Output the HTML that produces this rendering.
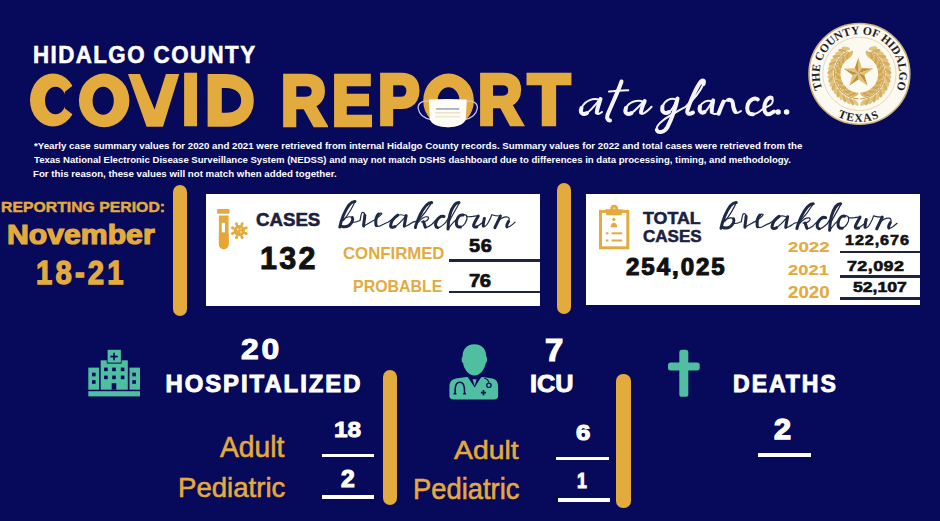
<!DOCTYPE html>
<html><head><meta charset="utf-8"><title>Hidalgo County COVID Report</title>
<style>
html,body{margin:0;padding:0}
body{width:940px;height:521px;overflow:hidden;background:#07095a;position:relative;font-family:'Liberation Sans',sans-serif}
.t{position:absolute;white-space:nowrap;line-height:1;transform-origin:0 0}
.box{position:absolute;background:#fff}
.bar{position:absolute;background:#e3ab3e;border-radius:7px}
.ln{position:absolute;background:#1c2442}
.wl{position:absolute;background:#fff}
svg{position:absolute;overflow:visible}
</style></head><body>
<div class="box" style="left:205.5px;top:194px;width:334.5px;height:111.5px"></div>
<div class="box" style="left:586px;top:194px;width:334px;height:111px"></div>
<div class="bar" style="left:173px;top:185px;width:14px;height:131px"></div>
<div class="bar" style="left:557px;top:183px;width:13.5px;height:131px"></div>
<div class="bar" style="left:383px;top:370px;width:13.5px;height:134.5px"></div>
<div class="bar" style="left:616px;top:374px;width:14.5px;height:133.5px"></div>
<div class="ln" style="left:449px;top:259.2px;width:91px;height:2.5px"></div>
<div class="ln" style="left:449px;top:290.9px;width:91px;height:2.5px"></div>
<div class="ln" style="left:840px;top:250.6px;width:80px;height:2.5px"></div>
<div class="ln" style="left:840px;top:275px;width:80px;height:2.5px"></div>
<div class="ln" style="left:840px;top:297.3px;width:80px;height:2.4px"></div>
<div class="wl" style="left:321.7px;top:453.5px;width:52.3px;height:3.7px"></div>
<div class="wl" style="left:321.7px;top:495.4px;width:52.3px;height:3.7px"></div>
<div class="wl" style="left:556.2px;top:456.6px;width:52.6px;height:3.7px"></div>
<div class="wl" style="left:558.2px;top:498.4px;width:52.2px;height:3.7px"></div>
<div class="wl" style="left:758.4px;top:453.4px;width:52.3px;height:3.9px"></div>
<div class="t" id="hc" style="left:33.38px;top:43.13px;color:#ffffff;font-family:'Liberation Sans', sans-serif;font-weight:700;font-style:normal;font-size:24.795px;-webkit-text-stroke:0.025em #ffffff;letter-spacing:1.607px;transform:scaleX(0.9);">HIDALGO COUNTY</div>
<div class="t" id="rp" style="left:0.91px;top:199.86px;color:#e3ab3e;font-family:'Liberation Sans', sans-serif;font-weight:700;font-style:normal;font-size:14.133px;-webkit-text-stroke:0.03em #e3ab3e;transform:scaleX(1.1179);">REPORTING PERIOD:</div>
<div class="t" id="nov" style="left:7.29px;top:221.81px;color:#e3ab3e;font-family:'Liberation Sans', sans-serif;font-weight:700;font-style:normal;font-size:26.923px;-webkit-text-stroke:0.045em #e3ab3e;transform:scaleX(1.1219);">November</div>
<div class="t" id="d1821" style="left:36.03px;top:257.07px;color:#e3ab3e;font-family:'Liberation Sans', sans-serif;font-weight:700;font-style:normal;font-size:32.533px;-webkit-text-stroke:0.04em #e3ab3e;letter-spacing:3.530px;transform:scaleX(0.9);">18-21</div>
<div class="t" id="cases1" style="left:256.43px;top:210.71px;color:#1b2140;font-family:'Liberation Sans', sans-serif;font-weight:700;font-style:normal;font-size:18.400px;-webkit-text-stroke:0.03em #1b2140;transform:scaleX(1.0150);">CASES</div>
<div class="t" id="n132" style="left:260.27px;top:243.11px;color:#111111;font-family:'Liberation Sans', sans-serif;font-weight:700;font-style:normal;font-size:31.467px;-webkit-text-stroke:0.03em #111111;letter-spacing:2.352px;transform:scaleX(0.97);">132</div>
<div class="t" id="conf" style="left:343.23px;top:244.90px;color:#e3ab3e;font-family:'Liberation Sans', sans-serif;font-weight:700;font-style:normal;font-size:17.324px;transform:scaleX(0.9679);">CONFIRMED</div>
<div class="t" id="n56" style="left:468.80px;top:236.74px;color:#111111;font-family:'Liberation Sans', sans-serif;font-weight:700;font-style:normal;font-size:18.133px;-webkit-text-stroke:0.04em #111111;letter-spacing:0.598px;transform:scaleX(1.1);">56</div>
<div class="t" id="prob" style="left:352.88px;top:277.57px;color:#e3ab3e;font-family:'Liberation Sans', sans-serif;font-weight:700;font-style:normal;font-size:16.197px;transform:scaleX(0.9845);">PROBABLE</div>
<div class="t" id="n76" style="left:469.40px;top:271.71px;color:#111111;font-family:'Liberation Sans', sans-serif;font-weight:700;font-style:normal;font-size:18.400px;-webkit-text-stroke:0.04em #111111;letter-spacing:-0.508px;transform:scaleX(1.1);">76</div>
<div class="t" id="total" style="left:643.18px;top:210.08px;color:#1b2140;font-family:'Liberation Sans', sans-serif;font-weight:700;font-style:normal;font-size:17.067px;-webkit-text-stroke:0.03em #1b2140;transform:scaleX(1.0435);">TOTAL</div>
<div class="t" id="cases2" style="left:642.96px;top:229.30px;color:#1b2140;font-family:'Liberation Sans', sans-serif;font-weight:700;font-style:normal;font-size:16.933px;-webkit-text-stroke:0.03em #1b2140;transform:scaleX(1.0074);">CASES</div>
<div class="t" id="n254" style="left:625.76px;top:255.58px;color:#111111;font-family:'Liberation Sans', sans-serif;font-weight:700;font-style:normal;font-size:23.200px;-webkit-text-stroke:0.045em #111111;letter-spacing:1.849px;transform:scaleX(1.04);">254,025</div>
<div class="t" id="y22" style="left:788.44px;top:238.63px;color:#e3ab3e;font-family:'Liberation Sans', sans-serif;font-weight:700;font-style:normal;font-size:15.479px;-webkit-text-stroke:0.01em #e3ab3e;transform:scaleX(1.2113);">2022</div>
<div class="t" id="y21" style="left:788.45px;top:262.23px;color:#e3ab3e;font-family:'Liberation Sans', sans-serif;font-weight:700;font-style:normal;font-size:15.479px;-webkit-text-stroke:0.01em #e3ab3e;transform:scaleX(1.1908);">2021</div>
<div class="t" id="y20" style="left:788.44px;top:284.30px;color:#e3ab3e;font-family:'Liberation Sans', sans-serif;font-weight:700;font-style:normal;font-size:16.438px;-webkit-text-stroke:0.01em #e3ab3e;transform:scaleX(1.1406);">2020</div>
<div class="t" id="v22" style="left:845.25px;top:233.51px;color:#111111;font-family:'Liberation Sans', sans-serif;font-weight:700;font-style:normal;font-size:13.733px;-webkit-text-stroke:0.04em #111111;letter-spacing:0.764px;transform:scaleX(1.18);">122,676</div>
<div class="t" id="v21" style="left:846.94px;top:257.62px;color:#111111;font-family:'Liberation Sans', sans-serif;font-weight:700;font-style:normal;font-size:15.200px;-webkit-text-stroke:0.04em #111111;letter-spacing:0.345px;transform:scaleX(1.18);">72,092</div>
<div class="t" id="v20" style="left:853.42px;top:280.16px;color:#111111;font-family:'Liberation Sans', sans-serif;font-weight:700;font-style:normal;font-size:14.933px;-webkit-text-stroke:0.04em #111111;letter-spacing:-0.016px;transform:scaleX(1.18);">52,107</div>
<div class="t" id="n20" style="left:240.86px;top:335.24px;color:#ffffff;font-family:'Liberation Sans', sans-serif;font-weight:700;font-style:normal;font-size:28.933px;-webkit-text-stroke:0.035em #ffffff;letter-spacing:2.587px;transform:scaleX(1.1);">20</div>
<div class="t" id="hosp" style="left:165.51px;top:372.10px;color:#ffffff;font-family:'Liberation Sans', sans-serif;font-weight:700;font-style:normal;font-size:23.867px;-webkit-text-stroke:0.04em #ffffff;letter-spacing:1.973px;transform:scaleX(1.0);">HOSPITALIZED</div>
<div class="t" id="ad1" style="left:220.48px;top:432.52px;color:#e3ab3e;font-family:'Liberation Sans', sans-serif;font-weight:400;font-style:normal;font-size:28.947px;-webkit-text-stroke:0.02em #e3ab3e;transform:scaleX(0.9775);">Adult</div>
<div class="t" id="pe1" style="left:177.87px;top:472.87px;color:#e3ab3e;font-family:'Liberation Sans', sans-serif;font-weight:400;font-style:normal;font-size:28.421px;-webkit-text-stroke:0.02em #e3ab3e;transform:scaleX(0.9715);">Pediatric</div>
<div class="t" id="n18" style="left:334.42px;top:418.71px;color:#ffffff;font-family:'Liberation Sans', sans-serif;font-weight:700;font-style:normal;font-size:22.267px;-webkit-text-stroke:0.04em #ffffff;letter-spacing:-0.057px;transform:scaleX(1.1);">18</div>
<div class="t" id="n2a" style="left:341.45px;top:467.82px;color:#ffffff;font-family:'Liberation Sans', sans-serif;font-weight:700;font-style:normal;font-size:23.158px;-webkit-text-stroke:0.05em #ffffff;transform:scaleX(1.0673);">2</div>
<div class="t" id="n7" style="left:544.65px;top:334.72px;color:#ffffff;font-family:'Liberation Sans', sans-serif;font-weight:700;font-style:normal;font-size:30.548px;-webkit-text-stroke:0.04em #ffffff;transform:scaleX(1.0719);">7</div>
<div class="t" id="icu" style="left:530.04px;top:372.67px;color:#ffffff;font-family:'Liberation Sans', sans-serif;font-weight:700;font-style:normal;font-size:23.333px;-webkit-text-stroke:0.04em #ffffff;transform:scaleX(1.0806);">ICU</div>
<div class="t" id="ad2" style="left:454.03px;top:437.11px;color:#e3ab3e;font-family:'Liberation Sans', sans-serif;font-weight:400;font-style:normal;font-size:26.316px;-webkit-text-stroke:0.02em #e3ab3e;transform:scaleX(1.0786);">Adult</div>
<div class="t" id="pe2" style="left:412.58px;top:474.24px;color:#e3ab3e;font-family:'Liberation Sans', sans-serif;font-weight:400;font-style:normal;font-size:29.605px;-webkit-text-stroke:0.02em #e3ab3e;transform:scaleX(0.9242);">Pediatric</div>
<div class="t" id="n6" style="left:575.84px;top:422.35px;color:#ffffff;font-family:'Liberation Sans', sans-serif;font-weight:700;font-style:normal;font-size:22.078px;-webkit-text-stroke:0.05em #ffffff;transform:scaleX(1.1659);">6</div>
<div class="t" id="n1" style="left:576.79px;top:469.61px;color:#ffffff;font-family:'Liberation Sans', sans-serif;font-weight:700;font-style:normal;font-size:22.267px;-webkit-text-stroke:0.05em #ffffff;transform:scaleX(0.7925);">1</div>
<div class="t" id="deaths" style="left:733.05px;top:373.10px;color:#ffffff;font-family:'Liberation Sans', sans-serif;font-weight:700;font-style:normal;font-size:23.067px;-webkit-text-stroke:0.04em #ffffff;letter-spacing:1.945px;transform:scaleX(1.0);">DEATHS</div>
<div class="t" id="n2b" style="left:773.79px;top:414.48px;color:#ffffff;font-family:'Liberation Sans', sans-serif;font-weight:700;font-style:normal;font-size:29.342px;-webkit-text-stroke:0.05em #ffffff;transform:scaleX(1.0417);">2</div>
<div class="t" id="fn1" style="left:33.50px;top:140.72px;color:#ffffff;font-family:'Liberation Sans', sans-serif;font-weight:700;font-style:normal;font-size:9.855px;transform:scaleX(0.9862);">*Yearly case summary values for 2020 and 2021 were retrieved from internal Hidalgo County records. Summary values for 2022 and total cases were retrieved from the</div>
<div class="t" id="fn2" style="left:33.90px;top:155.15px;color:#ffffff;font-family:'Liberation Sans', sans-serif;font-weight:700;font-style:normal;font-size:9.710px;transform:scaleX(0.9869);">Texas National Electronic Disease Surveillance System (NEDSS) and may not match DSHS dashboard due to differences in data processing, timing, and methodology.</div>
<div class="t" id="fn3" style="left:33.32px;top:170.12px;color:#ffffff;font-family:'Liberation Sans', sans-serif;font-weight:700;font-style:normal;font-size:9.275px;transform:scaleX(1.0473);">For this reason, these values will not match when added together.</div>
<div class="t" id="L4" style="left:182.35px;top:64.90px;color:#e3ab3e;font-family:'Liberation Sans', sans-serif;font-weight:700;font-style:normal;font-size:70.000px;-webkit-text-stroke:0.065em #e3ab3e;transform:scaleX(0.8831);">I</div>
<div class="t" id="L6" style="left:281.02px;top:64.54px;color:#e3ab3e;font-family:'Liberation Sans', sans-serif;font-weight:700;font-style:normal;font-size:71.200px;-webkit-text-stroke:0.065em #e3ab3e;transform:scaleX(0.8812);">R</div>
<div class="t" id="L7" style="left:332.48px;top:64.54px;color:#e3ab3e;font-family:'Liberation Sans', sans-serif;font-weight:700;font-style:normal;font-size:71.200px;-webkit-text-stroke:0.065em #e3ab3e;transform:scaleX(0.8516);">E</div>
<div class="t" id="L8" style="left:377.83px;top:64.67px;color:#e3ab3e;font-family:'Liberation Sans', sans-serif;font-weight:700;font-style:normal;font-size:70.263px;-webkit-text-stroke:0.065em #e3ab3e;transform:scaleX(0.8873);">P</div>
<div class="t" id="L10" style="left:478.15px;top:64.91px;color:#e3ab3e;font-family:'Liberation Sans', sans-serif;font-weight:700;font-style:normal;font-size:70.667px;-webkit-text-stroke:0.065em #e3ab3e;transform:scaleX(0.8723);">R</div>
<div class="t" id="L11" style="left:527.77px;top:65.73px;color:#e3ab3e;font-family:'Liberation Sans', sans-serif;font-weight:700;font-style:normal;font-size:69.737px;-webkit-text-stroke:0.065em #e3ab3e;transform:scaleX(0.9839);">T</div>
<svg width="940" height="521" viewBox="0 0 940 521" style="left:0;top:0">
<g fill="#e3ab3e" fill-rule="evenodd">
<path d="M30 100.1 A23 26.5 0 1 0 76 100.1 A23 26.5 0 1 0 30 100.1 Z M45 100.45 A10.5 13.75 0 1 0 66 100.45 A10.5 13.75 0 1 0 45 100.45 Z"/>
<path d="M78.9 100.45 A25.25 26.85 0 1 0 129.4 100.45 A25.25 26.85 0 1 0 78.9 100.45 Z M92.6 100.75 A10.6 14.05 0 1 0 113.8 100.75 A10.6 14.05 0 1 0 92.6 100.75 Z"/>
<path d="M128 74 L139.9 74 L154.6 109.5 L165.9 74 L179.3 74 L163 126.8 L146.6 126.8 Z"/>
<path d="M207.6 74 H226 C243 74 253.8 85 253.8 100.4 C253.8 115.8 243 126.8 226 126.8 H207.6 Z M221.8 88.1 H226 C235.5 88.1 241.2 93 241.2 100.4 C241.2 107.8 235.5 112.7 226 112.7 H221.8 Z"/>
<path d="M423.2 100.45 A25.35 26.85 0 1 0 473.9 100.45 A25.35 26.85 0 1 0 423.2 100.45 Z M437.6 100.75 A10.95 13.45 0 1 0 459.5 100.75 A10.95 13.45 0 1 0 437.6 100.75 Z"/>
</g>
<path d="M64.9 91.7 L78 81.5 L78 118.5 L64.9 108.5 Z" fill="#07095a"/>
<g>
<path d="M429.5 101.5 C423 100 417.5 103 418.2 108.5 C419 114 424 118.5 431 119.5" fill="none" stroke="#c4c3ef" stroke-width="1.3"/>
<path d="M466 101.5 C472.5 100 478 103 477.3 108.5 C476.5 114 471.5 118.5 464.5 119.5" fill="none" stroke="#c4c3ef" stroke-width="1.3"/>
<path d="M428.8 99.4 Q447.8 98.4 466.8 99.4 L465.8 118.5 Q464.5 126.5 447.8 127.2 Q431 126.5 429.8 118.5 Z" fill="#fdfcf7"/>
<rect x="436" y="108" width="23.5" height="1.8" rx="0.9" fill="#a9adc4"/>
<rect x="435" y="112" width="25.5" height="1.6" rx="0.8" fill="#e9e2c4"/>
<rect x="435" y="115.8" width="25.5" height="1.6" rx="0.8" fill="#efe9d2"/>
</g>
<g fill="#e3ab3e">
<rect x="217.1" y="209.1" width="12.4" height="4.6" rx="0.8"/>
<path d="M218.9 215.6 H228.6 V244.4 A4.85 4.85 0 0 1 218.9 244.4 Z"/>
<path d="M218.9 233.5 H228.6 V244.4 A4.85 4.85 0 0 1 218.9 244.4 Z" fill="#e9a434"/>
<rect x="221.8" y="222.9" width="3.2" height="9.4" fill="#fff"/>
</g>
<g><line x1="243.00" y1="232.23" x2="246.14" y2="233.53" stroke="#e3ab3e" stroke-width="2.2"/><circle cx="246.14" cy="233.53" r="1.5" fill="#e3ab3e"/><line x1="240.83" y1="234.40" x2="242.13" y2="237.54" stroke="#e3ab3e" stroke-width="2.2"/><circle cx="242.13" cy="237.54" r="1.5" fill="#e3ab3e"/><line x1="237.77" y1="234.40" x2="236.47" y2="237.54" stroke="#e3ab3e" stroke-width="2.2"/><circle cx="236.47" cy="237.54" r="1.5" fill="#e3ab3e"/><line x1="235.60" y1="232.23" x2="232.46" y2="233.53" stroke="#e3ab3e" stroke-width="2.2"/><circle cx="232.46" cy="233.53" r="1.5" fill="#e3ab3e"/><line x1="235.60" y1="229.17" x2="232.46" y2="227.87" stroke="#e3ab3e" stroke-width="2.2"/><circle cx="232.46" cy="227.87" r="1.5" fill="#e3ab3e"/><line x1="237.77" y1="227.00" x2="236.47" y2="223.86" stroke="#e3ab3e" stroke-width="2.2"/><circle cx="236.47" cy="223.86" r="1.5" fill="#e3ab3e"/><line x1="240.83" y1="227.00" x2="242.13" y2="223.86" stroke="#e3ab3e" stroke-width="2.2"/><circle cx="242.13" cy="223.86" r="1.5" fill="#e3ab3e"/><line x1="243.00" y1="229.17" x2="246.14" y2="227.87" stroke="#e3ab3e" stroke-width="2.2"/><circle cx="246.14" cy="227.87" r="1.5" fill="#e3ab3e"/><circle cx="239.3" cy="230.7" r="5.6" fill="#e3ab3e"/><circle cx="237.9" cy="229.5" r="1.1" fill="#f6e3b8"/><circle cx="241.0" cy="232.1" r="0.9" fill="#f6e3b8"/><circle cx="240.9" cy="228.89999999999998" r="0.7" fill="#f6e3b8"/></g>
<g>
<rect x="600.5" y="211.4" width="27.3" height="36.4" fill="none" stroke="#e3ab3e" stroke-width="3"/>
<path d="M605.4 209.3 H622.5 L621.6 215.2 H606.3 Z" fill="#e3ab3e"/>
<circle cx="614.2" cy="208.6" r="3.8" fill="#e3ab3e"/>
<circle cx="614.2" cy="208.3" r="1.1" fill="#f3d9a0"/>
<circle cx="613.9" cy="219.4" r="1.6" fill="#e3ab3e"/>
<path d="M610.6 227.3 Q610.8 222.8 613.9 222.8 Q617 222.8 617.2 227.3 Z" fill="#e3ab3e"/>
<rect x="605.8" y="232.3" width="2.6" height="2" fill="#e3ab3e"/><rect x="611.6" y="232.3" width="10.6" height="2" fill="#e3ab3e"/>
<rect x="605.8" y="239.5" width="2.6" height="2" fill="#e3ab3e"/><rect x="611.6" y="239.5" width="10.6" height="2" fill="#e3ab3e"/>
</g>
<g>
<rect x="88.3" y="367.6" width="10.7" height="22.1" fill="#50bea0"/>
<rect x="129.5" y="367.6" width="10.5" height="22.1" fill="#50bea0"/>
<rect x="100.7" y="360.3" width="27.1" height="29.4" fill="#50bea0"/>
<rect x="106.8" y="349.2" width="14.8" height="14.4" fill="#07095a"/>
<rect x="107.6" y="349.8" width="13.3" height="12.8" fill="#50bea0"/>
<rect x="113.2" y="352.8" width="1.7" height="7.5" fill="#07095a"/>
<rect x="110.3" y="355.7" width="7.5" height="1.7" fill="#07095a"/>
<rect x="88.3" y="391.2" width="51.7" height="5.2" fill="#50bea0"/>
<rect x="111.7" y="383.2" width="4.6" height="6.5" fill="#07095a"/>
<rect x="104.1" y="367.6" width="3.6" height="3.6" fill="#07095a"/><rect x="104.1" y="375.6" width="3.6" height="3.6" fill="#07095a"/><rect x="112.2" y="367.6" width="3.6" height="3.6" fill="#07095a"/><rect x="112.2" y="375.6" width="3.6" height="3.6" fill="#07095a"/><rect x="120.8" y="367.6" width="3.6" height="3.6" fill="#07095a"/><rect x="120.8" y="375.6" width="3.6" height="3.6" fill="#07095a"/><rect x="92.0" y="372.7" width="3.6" height="3.6" fill="#07095a"/><rect x="92.0" y="380.2" width="3.6" height="3.6" fill="#07095a"/><rect x="132.3" y="372.7" width="3.6" height="3.6" fill="#07095a"/><rect x="132.3" y="380.2" width="3.6" height="3.6" fill="#07095a"/>
</g>
<g>
<path d="M474.4 344.3 C466 344.3 462.6 350 462.6 356.5 C461.3 357 461.3 362.5 463 363 C464.2 369.5 468.5 375.6 474.4 375.6 C480.3 375.6 484.6 369.5 485.8 363 C487.5 362.5 487.5 357 486.2 356.5 C486.2 350 482.8 344.3 474.4 344.3 Z" fill="#50bea0"/>
<path d="M449.4 387 Q449.4 379.6 456 378.6 L466.5 377 L474.6 378.5 L482.5 377 L492.5 378.6 Q498.1 379.6 498.1 387 L498.1 396 Q498.1 399.4 494 399.4 L453.5 399.4 Q449.4 399.4 449.4 396 Z" fill="#50bea0"/>
<path d="M467.6 376.8 L481.4 376.8 L474.6 387.6 Z" fill="#07095a"/>
<path d="M472.5 379.2 L476.7 379.2 L474.6 386 Z" fill="#50bea0"/>
<path d="M455 393.4 L455.2 388 Q456 382.2 459.8 382.2 Q463.6 382.2 464.4 388 L464.6 393.4" fill="none" stroke="#07095a" stroke-width="1.5"/>
<path d="M453.6 393.7 H456.4 M463.2 393.7 H466" stroke="#07095a" stroke-width="1.4"/>
<path d="M484.3 378.2 Q488.6 379.2 488.8 382.8" fill="none" stroke="#07095a" stroke-width="1.1"/>
<circle cx="488.9" cy="385.3" r="2.2" fill="none" stroke="#07095a" stroke-width="1.2"/>
<rect x="482.6" y="390.1" width="1.7" height="5.2" fill="#07095a"/><rect x="480.9" y="391.8" width="5.1" height="1.7" fill="#07095a"/>
</g>
<g fill="#50bea0">
<rect x="679.3" y="349.8" width="9" height="47" rx="2.6"/>
<rect x="668" y="362.5" width="31.7" height="7.9" rx="2.6"/>
</g>
</svg><svg width="940" height="521" viewBox="0 0 940 521" style="left:0;top:0">
<circle cx="859.4" cy="73.9" r="50.4" fill="#fcf9f0" stroke="#cdb47c" stroke-width="1.6"/>
<circle cx="859.4" cy="73.9" r="36.7" fill="none" stroke="#e2d1a6" stroke-width="0.8"/>
<defs><path id="sealarc" d="M822.50 88.81 A39.8 39.8 0 1 1 896.30 88.81"/><path id="sealarc2" d="M834.68 115.04 A48.0 48.0 0 0 0 881.93 116.28"/></defs>
<text font-family="'Liberation Serif', serif" font-weight="700" font-size="11.6" fill="#1c1c26"><textPath href="#sealarc" textLength="155.6" lengthAdjust="spacing">THE COUNTY OF HIDALGO</textPath></text>
<text font-family="'Liberation Serif', serif" font-weight="700" font-size="11.6" fill="#1c1c26" text-anchor="middle"><textPath href="#sealarc2" startOffset="51%" letter-spacing="1">TEXAS</textPath></text>
<path d="M858.53 98.88 A25 25 0 0 1 847.66 51.83" fill="none" stroke="#c99f4e" stroke-width="1.1"/>
<path d="M860.27 98.88 A25 25 0 0 0 871.14 51.83" fill="none" stroke="#c99f4e" stroke-width="1.1"/>
<g><ellipse cx="855.39" cy="102.42" rx="4.25" ry="1.70" transform="rotate(228.0 855.39 102.42)" fill="#e3c37e"/><ellipse cx="854.93" cy="94.93" rx="4.00" ry="1.60" transform="rotate(152.0 854.93 94.93)" fill="#dcb970"/><ellipse cx="851.46" cy="101.58" rx="4.25" ry="1.70" transform="rotate(236.0 851.46 101.58)" fill="#d6b062"/><ellipse cx="852.05" cy="94.10" rx="4.00" ry="1.60" transform="rotate(160.0 852.05 94.10)" fill="#cfa654"/><ellipse cx="847.69" cy="100.21" rx="4.25" ry="1.70" transform="rotate(244.0 847.69 100.21)" fill="#e3c37e"/><ellipse cx="849.31" cy="92.88" rx="4.00" ry="1.60" transform="rotate(168.0 849.31 92.88)" fill="#dcb970"/><ellipse cx="844.14" cy="98.32" rx="4.25" ry="1.70" transform="rotate(252.0 844.14 98.32)" fill="#d6b062"/><ellipse cx="846.76" cy="91.29" rx="4.00" ry="1.60" transform="rotate(176.0 846.76 91.29)" fill="#cfa654"/><ellipse cx="840.89" cy="95.96" rx="4.25" ry="1.70" transform="rotate(260.0 840.89 95.96)" fill="#e3c37e"/><ellipse cx="844.46" cy="89.37" rx="4.00" ry="1.60" transform="rotate(184.0 844.46 89.37)" fill="#dcb970"/><ellipse cx="838.00" cy="93.17" rx="4.25" ry="1.70" transform="rotate(268.0 838.00 93.17)" fill="#d6b062"/><ellipse cx="842.46" cy="87.14" rx="4.00" ry="1.60" transform="rotate(192.0 842.46 87.14)" fill="#cfa654"/><ellipse cx="835.52" cy="90.00" rx="4.25" ry="1.70" transform="rotate(276.0 835.52 90.00)" fill="#e3c37e"/><ellipse cx="840.78" cy="84.65" rx="4.00" ry="1.60" transform="rotate(200.0 840.78 84.65)" fill="#dcb970"/><ellipse cx="833.51" cy="86.53" rx="4.25" ry="1.70" transform="rotate(284.0 833.51 86.53)" fill="#d6b062"/><ellipse cx="839.47" cy="81.95" rx="4.00" ry="1.60" transform="rotate(208.0 839.47 81.95)" fill="#cfa654"/><ellipse cx="832.01" cy="82.80" rx="4.25" ry="1.70" transform="rotate(292.0 832.01 82.80)" fill="#e3c37e"/><ellipse cx="838.54" cy="79.10" rx="4.00" ry="1.60" transform="rotate(216.0 838.54 79.10)" fill="#dcb970"/><ellipse cx="831.04" cy="78.90" rx="4.25" ry="1.70" transform="rotate(300.0 831.04 78.90)" fill="#d6b062"/><ellipse cx="838.02" cy="76.15" rx="4.00" ry="1.60" transform="rotate(224.0 838.02 76.15)" fill="#cfa654"/><ellipse cx="830.62" cy="74.91" rx="4.25" ry="1.70" transform="rotate(308.0 830.62 74.91)" fill="#e3c37e"/><ellipse cx="837.91" cy="73.15" rx="4.00" ry="1.60" transform="rotate(232.0 837.91 73.15)" fill="#dcb970"/><ellipse cx="830.76" cy="70.89" rx="4.25" ry="1.70" transform="rotate(316.0 830.76 70.89)" fill="#d6b062"/><ellipse cx="838.23" cy="70.17" rx="4.00" ry="1.60" transform="rotate(240.0 838.23 70.17)" fill="#cfa654"/><ellipse cx="831.46" cy="66.93" rx="4.25" ry="1.70" transform="rotate(324.0 831.46 66.93)" fill="#e3c37e"/><ellipse cx="838.95" cy="67.26" rx="4.00" ry="1.60" transform="rotate(248.0 838.95 67.26)" fill="#dcb970"/><ellipse cx="832.70" cy="63.11" rx="4.25" ry="1.70" transform="rotate(332.0 832.70 63.11)" fill="#d6b062"/><ellipse cx="840.08" cy="64.48" rx="4.00" ry="1.60" transform="rotate(256.0 840.08 64.48)" fill="#cfa654"/><ellipse cx="834.46" cy="59.50" rx="4.25" ry="1.70" transform="rotate(340.0 834.46 59.50)" fill="#e3c37e"/><ellipse cx="841.58" cy="61.88" rx="4.00" ry="1.60" transform="rotate(264.0 841.58 61.88)" fill="#dcb970"/><ellipse cx="836.71" cy="56.17" rx="4.25" ry="1.70" transform="rotate(348.0 836.71 56.17)" fill="#d6b062"/><ellipse cx="843.42" cy="59.51" rx="4.00" ry="1.60" transform="rotate(272.0 843.42 59.51)" fill="#cfa654"/><ellipse cx="839.39" cy="53.18" rx="4.25" ry="1.70" transform="rotate(356.0 839.39 53.18)" fill="#e3c37e"/><ellipse cx="845.58" cy="57.43" rx="4.00" ry="1.60" transform="rotate(280.0 845.58 57.43)" fill="#dcb970"/><ellipse cx="842.47" cy="50.60" rx="4.25" ry="1.70" transform="rotate(364.0 842.47 50.60)" fill="#d6b062"/><ellipse cx="848.01" cy="55.67" rx="4.00" ry="1.60" transform="rotate(288.0 848.01 55.67)" fill="#cfa654"/><ellipse cx="845.88" cy="48.47" rx="4.25" ry="1.70" transform="rotate(372.0 845.88 48.47)" fill="#e3c37e"/><ellipse cx="850.66" cy="54.26" rx="4.00" ry="1.60" transform="rotate(296.0 850.66 54.26)" fill="#dcb970"/><ellipse cx="863.41" cy="102.42" rx="4.25" ry="1.90" transform="rotate(132.0 863.41 102.42)" fill="#e3c37e"/><ellipse cx="863.87" cy="94.93" rx="4.00" ry="1.80" transform="rotate(208.0 863.87 94.93)" fill="#dcb970"/><ellipse cx="867.34" cy="101.58" rx="4.25" ry="1.90" transform="rotate(124.0 867.34 101.58)" fill="#d6b062"/><ellipse cx="866.75" cy="94.10" rx="4.00" ry="1.80" transform="rotate(200.0 866.75 94.10)" fill="#cfa654"/><ellipse cx="871.11" cy="100.21" rx="4.25" ry="1.90" transform="rotate(116.0 871.11 100.21)" fill="#e3c37e"/><ellipse cx="869.49" cy="92.88" rx="4.00" ry="1.80" transform="rotate(192.0 869.49 92.88)" fill="#dcb970"/><ellipse cx="874.66" cy="98.32" rx="4.25" ry="1.90" transform="rotate(108.0 874.66 98.32)" fill="#d6b062"/><ellipse cx="872.04" cy="91.29" rx="4.00" ry="1.80" transform="rotate(184.0 872.04 91.29)" fill="#cfa654"/><ellipse cx="877.91" cy="95.96" rx="4.25" ry="1.90" transform="rotate(100.0 877.91 95.96)" fill="#e3c37e"/><ellipse cx="874.34" cy="89.37" rx="4.00" ry="1.80" transform="rotate(176.0 874.34 89.37)" fill="#dcb970"/><ellipse cx="880.80" cy="93.17" rx="4.25" ry="1.90" transform="rotate(92.0 880.80 93.17)" fill="#d6b062"/><ellipse cx="876.34" cy="87.14" rx="4.00" ry="1.80" transform="rotate(168.0 876.34 87.14)" fill="#cfa654"/><ellipse cx="883.28" cy="90.00" rx="4.25" ry="1.90" transform="rotate(84.0 883.28 90.00)" fill="#e3c37e"/><ellipse cx="878.02" cy="84.65" rx="4.00" ry="1.80" transform="rotate(160.0 878.02 84.65)" fill="#dcb970"/><ellipse cx="885.29" cy="86.53" rx="4.25" ry="1.90" transform="rotate(76.0 885.29 86.53)" fill="#d6b062"/><ellipse cx="879.33" cy="81.95" rx="4.00" ry="1.80" transform="rotate(152.0 879.33 81.95)" fill="#cfa654"/><ellipse cx="886.79" cy="82.80" rx="4.25" ry="1.90" transform="rotate(68.0 886.79 82.80)" fill="#e3c37e"/><ellipse cx="880.26" cy="79.10" rx="4.00" ry="1.80" transform="rotate(144.0 880.26 79.10)" fill="#dcb970"/><ellipse cx="887.76" cy="78.90" rx="4.25" ry="1.90" transform="rotate(60.0 887.76 78.90)" fill="#d6b062"/><ellipse cx="880.78" cy="76.15" rx="4.00" ry="1.80" transform="rotate(136.0 880.78 76.15)" fill="#cfa654"/><ellipse cx="888.18" cy="74.91" rx="4.25" ry="1.90" transform="rotate(52.0 888.18 74.91)" fill="#e3c37e"/><ellipse cx="880.89" cy="73.15" rx="4.00" ry="1.80" transform="rotate(128.0 880.89 73.15)" fill="#dcb970"/><ellipse cx="888.04" cy="70.89" rx="4.25" ry="1.90" transform="rotate(44.0 888.04 70.89)" fill="#d6b062"/><ellipse cx="880.57" cy="70.17" rx="4.00" ry="1.80" transform="rotate(120.0 880.57 70.17)" fill="#cfa654"/><ellipse cx="887.34" cy="66.93" rx="4.25" ry="1.90" transform="rotate(36.0 887.34 66.93)" fill="#e3c37e"/><ellipse cx="879.85" cy="67.26" rx="4.00" ry="1.80" transform="rotate(112.0 879.85 67.26)" fill="#dcb970"/><ellipse cx="886.10" cy="63.11" rx="4.25" ry="1.90" transform="rotate(28.0 886.10 63.11)" fill="#d6b062"/><ellipse cx="878.72" cy="64.48" rx="4.00" ry="1.80" transform="rotate(104.0 878.72 64.48)" fill="#cfa654"/><ellipse cx="884.34" cy="59.50" rx="4.25" ry="1.90" transform="rotate(20.0 884.34 59.50)" fill="#e3c37e"/><ellipse cx="877.22" cy="61.88" rx="4.00" ry="1.80" transform="rotate(96.0 877.22 61.88)" fill="#dcb970"/><ellipse cx="882.09" cy="56.17" rx="4.25" ry="1.90" transform="rotate(12.0 882.09 56.17)" fill="#d6b062"/><ellipse cx="875.38" cy="59.51" rx="4.00" ry="1.80" transform="rotate(88.0 875.38 59.51)" fill="#cfa654"/><ellipse cx="879.41" cy="53.18" rx="4.25" ry="1.90" transform="rotate(4.0 879.41 53.18)" fill="#e3c37e"/><ellipse cx="873.22" cy="57.43" rx="4.00" ry="1.80" transform="rotate(80.0 873.22 57.43)" fill="#dcb970"/><ellipse cx="876.33" cy="50.60" rx="4.25" ry="1.90" transform="rotate(-4.0 876.33 50.60)" fill="#d6b062"/><ellipse cx="870.79" cy="55.67" rx="4.00" ry="1.80" transform="rotate(72.0 870.79 55.67)" fill="#cfa654"/><ellipse cx="872.92" cy="48.47" rx="4.25" ry="1.90" transform="rotate(-12.0 872.92 48.47)" fill="#e3c37e"/><ellipse cx="868.14" cy="54.26" rx="4.00" ry="1.80" transform="rotate(64.0 868.14 54.26)" fill="#dcb970"/></g>
<g><path d="M858.4 73.2 L858.40 57.60 L862.04 68.18 Z" fill="#e4c273"/><path d="M858.4 73.2 L862.04 68.18 L873.24 68.38 Z" fill="#bf923f"/><path d="M858.4 73.2 L873.24 68.38 L864.30 75.12 Z" fill="#e4c273"/><path d="M858.4 73.2 L864.30 75.12 L867.57 85.82 Z" fill="#bf923f"/><path d="M858.4 73.2 L867.57 85.82 L858.40 79.40 Z" fill="#e4c273"/><path d="M858.4 73.2 L858.40 79.40 L849.23 85.82 Z" fill="#bf923f"/><path d="M858.4 73.2 L849.23 85.82 L852.50 75.12 Z" fill="#e4c273"/><path d="M858.4 73.2 L852.50 75.12 L843.56 68.38 Z" fill="#bf923f"/><path d="M858.4 73.2 L843.56 68.38 L854.76 68.18 Z" fill="#e4c273"/><path d="M858.4 73.2 L854.76 68.18 L858.40 57.60 Z" fill="#bf923f"/></g>
</svg><svg width="940" height="521" viewBox="0 0 940 521" style="left:0;top:0">
<g fill="none" stroke="#f6f5fc" stroke-linecap="round" stroke-linejoin="round">
<g stroke-width="2.0">
<path d="M599.5 100 C594 97.5 585 100 581.5 108 C579.5 113 583 115.5 587 113 C591 110.5 596 104 599.5 100"/>
<path d="M643.5 102 C638 99 629 101.5 626 108 C624 113 627.5 115.5 631.5 113 C636 110 640 105 643.5 102"/>
<path d="M676.5 100 C671 97 664.5 100.5 662.5 106.5 C661 112 665 114.5 669 112 C673 109.5 675 104 676.5 100"/>
<path d="M712 101.5 C707 99.5 702 102 700 106.5 C698.5 111 701.5 114 704.5 112 C708 109.5 710 105 712 101.5"/>
<path d="M609 91.6 C615 90.8 622 90.5 628.3 90.3"/>
<path d="M656.8 130 C655.5 126.5 662 120 669.5 116 C674 113.5 679 110 685.6 106.8 C692 101 700 92 703.5 84"/>
<path d="M596.8 112.5 C596.7 114.5 599 114.5 602 112"/>
<path d="M641 112.5 C641 115 645 114 651.6 106.8"/>
<path d="M711.8 112 C712 114.5 715 114 717.8 113.8 C719.5 109 721 104.5 723.5 101.5"/>
<path d="M735.3 112 C736.5 113.5 738.5 113 741 111"/>
<path d="M720 108.5 C721.8 103.8 724.8 100.4 728.2 99.9"/>
<path d="M753 114.3 C757 114 760 111.5 762.4 109.3 C765 107.5 768.5 106.5 771 104.5 C773 102.5 773.5 99 771.5 97.8"/>

</g>
<g stroke-width="4.0">
<path d="M581.5 108 C579.5 113 583 115.5 587 113"/>
<path d="M600.5 99 C599 104 597 109 596.8 112.5"/>
<path d="M621.5 81.5 C618 92 611 106 607.5 115 C606.5 118.5 608 120.5 610 120.5"/>
<path d="M626 108 C624 113 627.5 115.5 631.5 113"/>
<path d="M644.7 101 C643 105 641 110 641 112.5"/>
<path d="M662.5 106.5 C661 112 665 114.5 669 112"/>
<path d="M677.5 98.5 C676 106 672 118 667.5 127 C664.5 132.5 658.5 133.5 656.8 130"/>
<path d="M703.5 84 C705 80 702.5 79.5 700.5 82 C696 88 690 102 687.5 110 C686.5 114 689 115 693 112.5"/>
<path d="M700 106.5 C698.5 111 701.5 114 704.5 112"/>
<path d="M713.2 100.4 C712.5 104 711.5 109 711.8 112"/>
<path d="M723.5 101.5 C722 105 720 110 718.6 113.8"/>
<path d="M728.2 99.9 C731 99.6 732.6 100.8 732.8 103 C733 106 733.6 109.5 735.3 112"/>
<path d="M757.8 99.5 C755 97 749.5 99.5 747.8 104.5 C746.5 109 747 114.5 753 114.3"/>
<path d="M771.5 97.8 C769 96.8 766 100 765 103.5 C764 107 763.8 112 767 114.2 C769.5 115 772 113 774 111.5"/>
</g>
</g>
<circle cx="778.1" cy="112" r="2.8" fill="#f6f5fc"/><circle cx="786.6" cy="112" r="2.8" fill="#f6f5fc"/>
</svg>
<svg width="940" height="521" viewBox="0 0 940 521" style="left:0;top:0">
<g transform="translate(0 0)" fill="none" stroke="#1f2945" stroke-linecap="round" stroke-linejoin="round"><g stroke-width="1.2"><path d="M343.5 220.5 C348 214.5 353 207 354.8 201.6"/><path d="M343 219.5 C346 217 350 216 352.3 217.6"/><path d="M351.5 222.5 C354 222.5 357 222 360 220.5 C361 216 361 213.5 362 212.6 C363.5 212 365 213.5 364.8 215.2"/><path d="M363.6 226 C367 224.5 371 221.5 375.5 219.5 C378 217.5 381 215 381.7 213.8 C382 212.8 380 212.8 378.5 214"/><path d="M376.2 225.5 C377.5 226.8 379.5 226.5 382 225 C384 224 386 223 388 222.2 C391 220.5 395 217 397.7 215.2 C400 214.5 403 214.5 405.6 216.3"/><path d="M395 226.5 C398.5 224.5 402.5 220 405.6 216.3"/><path d="M404.3 226.2 C406 226.5 408.5 225 411 223.2 C413 221.5 415.5 221.3 417.8 221 C422.5 216 428.5 208 431.6 202.9"/><path d="M418.5 222 C421 219 424.5 216.5 427.5 216.8 C429.5 217.2 428.5 220 425.5 221.2 C423.5 222 422 222 421.5 221.8"/><path d="M425.5 227.2 C427 227.8 429.5 226 432 224.2 C435 221 439 216 444 216.5"/><path d="M437.6 227.6 C440 228 443 225 445.9 222.3 C446.5 221 447.5 219.5 448.5 218"/><path d="M448.8 222 C452.2 215.5 456.6 208 459.3 203"/><path d="M448.5 228.5 C451 225 454 221 456.6 219.5"/><path d="M460.5 227 C464.5 226 467.5 220 467 216.5 C466.5 214.5 464.5 214.5 463 215"/><path d="M466.5 216.5 C468.5 217 470.5 216.8 472.8 216.4 C474.5 216 476.5 215.8 478.3 216"/><path d="M476.8 226.8 C479 225.5 481 223.5 482.6 222.5 C483.5 221 484 219.5 484.4 218.4"/><path d="M483.3 226 C483.8 227.3 486 226.5 488 223 C489.5 220.5 491 217.5 491.8 214.7 C494 215.5 497.5 216 500.4 216"/><path d="M497 222 C500 219 504 216.5 507.5 217 C509.5 217.5 509.5 219.5 508.5 221.5"/><path d="M507 226.8 C508.5 228 511.5 225.5 515.1 222.1"/></g><g stroke-width="3.0"><path d="M355 201.5 C351 201.2 346.5 208 343.5 215 C341.5 220 340.3 224.5 339.8 227"/><path d="M352.3 217.6 C353.5 219.5 352 223 349 225.5 C346.5 227 343.5 227 341.8 226.3"/><path d="M364.8 215.2 C364.8 219 363.5 223 363.6 226"/><path d="M378.5 214 C376.5 216 375.5 220 375.8 224 C376 225 376.1 225.4 376.2 225.5"/><path d="M397.7 215.2 C394 217.5 391 222 390.6 225.5 C390.5 227.5 393 227.8 395 226.5"/><path d="M406.2 215.6 C405.5 219 404.5 223.5 404.3 226.2"/><path d="M431.7 202.6 C427.5 202.4 423 209 420 215 C418 219.5 416 224 415.4 227.4"/><path d="M423.5 221.8 C424.5 223.5 424.5 226 425.5 227.2"/><path d="M444 216.5 C441 215.5 438.5 217.5 436.5 221 C435 224 435.2 227 437.6 227.6"/><path d="M459 202.6 C455 202.4 451.5 209 449.8 215 C448.6 220 448 225 448 229"/><path d="M463 215 C459.5 214.5 457 218 456.4 222 C456 225.5 457.5 227.5 460.5 227"/><path d="M478.3 216 C476.5 219 474.5 222.5 473.6 225 C473.2 227 475 227.5 476.8 226.8"/><path d="M484.4 218.4 C483.8 221 483 224 483.3 226"/><path d="M500.4 216 C499 219.5 496.5 224 494.9 227.6"/><path d="M508.5 221.5 C507.5 223.5 506 225.5 507 226.8"/></g></g>
<g transform="translate(721 202.6) scale(1.0040) translate(-339.8 -201.5)" fill="none" stroke="#1f2945" stroke-linecap="round" stroke-linejoin="round"><g stroke-width="1.2"><path d="M343.5 220.5 C348 214.5 353 207 354.8 201.6"/><path d="M343 219.5 C346 217 350 216 352.3 217.6"/><path d="M351.5 222.5 C354 222.5 357 222 360 220.5 C361 216 361 213.5 362 212.6 C363.5 212 365 213.5 364.8 215.2"/><path d="M363.6 226 C367 224.5 371 221.5 375.5 219.5 C378 217.5 381 215 381.7 213.8 C382 212.8 380 212.8 378.5 214"/><path d="M376.2 225.5 C377.5 226.8 379.5 226.5 382 225 C384 224 386 223 388 222.2 C391 220.5 395 217 397.7 215.2 C400 214.5 403 214.5 405.6 216.3"/><path d="M395 226.5 C398.5 224.5 402.5 220 405.6 216.3"/><path d="M404.3 226.2 C406 226.5 408.5 225 411 223.2 C413 221.5 415.5 221.3 417.8 221 C422.5 216 428.5 208 431.6 202.9"/><path d="M418.5 222 C421 219 424.5 216.5 427.5 216.8 C429.5 217.2 428.5 220 425.5 221.2 C423.5 222 422 222 421.5 221.8"/><path d="M425.5 227.2 C427 227.8 429.5 226 432 224.2 C435 221 439 216 444 216.5"/><path d="M437.6 227.6 C440 228 443 225 445.9 222.3 C446.5 221 447.5 219.5 448.5 218"/><path d="M448.8 222 C452.2 215.5 456.6 208 459.3 203"/><path d="M448.5 228.5 C451 225 454 221 456.6 219.5"/><path d="M460.5 227 C464.5 226 467.5 220 467 216.5 C466.5 214.5 464.5 214.5 463 215"/><path d="M466.5 216.5 C468.5 217 470.5 216.8 472.8 216.4 C474.5 216 476.5 215.8 478.3 216"/><path d="M476.8 226.8 C479 225.5 481 223.5 482.6 222.5 C483.5 221 484 219.5 484.4 218.4"/><path d="M483.3 226 C483.8 227.3 486 226.5 488 223 C489.5 220.5 491 217.5 491.8 214.7 C494 215.5 497.5 216 500.4 216"/><path d="M497 222 C500 219 504 216.5 507.5 217 C509.5 217.5 509.5 219.5 508.5 221.5"/><path d="M507 226.8 C508.5 228 511.5 225.5 515.1 222.1"/></g><g stroke-width="3.0"><path d="M355 201.5 C351 201.2 346.5 208 343.5 215 C341.5 220 340.3 224.5 339.8 227"/><path d="M352.3 217.6 C353.5 219.5 352 223 349 225.5 C346.5 227 343.5 227 341.8 226.3"/><path d="M364.8 215.2 C364.8 219 363.5 223 363.6 226"/><path d="M378.5 214 C376.5 216 375.5 220 375.8 224 C376 225 376.1 225.4 376.2 225.5"/><path d="M397.7 215.2 C394 217.5 391 222 390.6 225.5 C390.5 227.5 393 227.8 395 226.5"/><path d="M406.2 215.6 C405.5 219 404.5 223.5 404.3 226.2"/><path d="M431.7 202.6 C427.5 202.4 423 209 420 215 C418 219.5 416 224 415.4 227.4"/><path d="M423.5 221.8 C424.5 223.5 424.5 226 425.5 227.2"/><path d="M444 216.5 C441 215.5 438.5 217.5 436.5 221 C435 224 435.2 227 437.6 227.6"/><path d="M459 202.6 C455 202.4 451.5 209 449.8 215 C448.6 220 448 225 448 229"/><path d="M463 215 C459.5 214.5 457 218 456.4 222 C456 225.5 457.5 227.5 460.5 227"/><path d="M478.3 216 C476.5 219 474.5 222.5 473.6 225 C473.2 227 475 227.5 476.8 226.8"/><path d="M484.4 218.4 C483.8 221 483 224 483.3 226"/><path d="M500.4 216 C499 219.5 496.5 224 494.9 227.6"/><path d="M508.5 221.5 C507.5 223.5 506 225.5 507 226.8"/></g></g>
</svg>
</body></html>
